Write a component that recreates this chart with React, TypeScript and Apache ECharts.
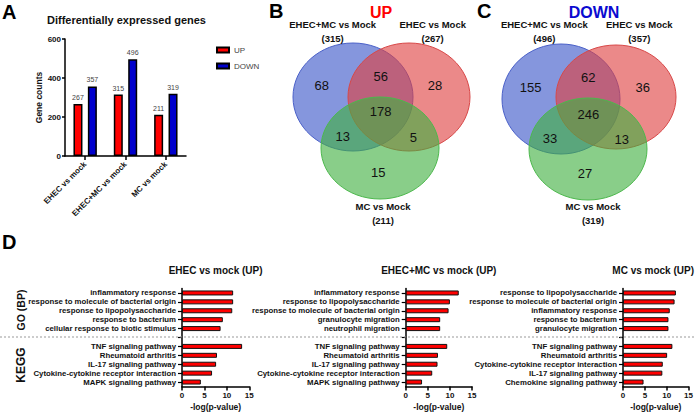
import React, { useEffect, useRef } from "react";
import * as echarts from "echarts";

// ---------- Panel A data ----------
const barCategories = ["EHEC vs mock", "EHEC+MC vs mock", "MC vs mock"];
const upCounts = [267, 315, 211];
const downCounts = [357, 496, 319];
const countTicks = { min: 0, max: 600, interval: 200 };

// ---------- Venn data (regions: onlyA, AB, onlyB, ABC, AC, BC, onlyC) ----------
const vennSetNames = ["EHEC+MC vs Mock", "EHEC vs Mock", "MC vs Mock"];
const vennUpRegions = [68, 56, 28, 178, 13, 5, 15];
const vennUpTotals = [315, 267, 211];
const vennDownRegions = [155, 62, 36, 246, 33, 13, 27];
const vennDownTotals = [496, 357, 319];

// ---------- Panel D data ----------
const ehecGO = ["inflammatory response", "response to molecule of bacterial origin", "response to lipopolysaccharide", "response to bacterium", "cellular response to biotic stimulus"];
const ehecGOValues = [11.4, 11.4, 11.2, 9.1, 8.6];
const ehecKEGG = ["TNF signaling pathway", "Rheumatoid arthritis", "IL-17 signaling pathway", "Cytokine-cytokine receptor interaction", "MAPK signaling pathway"];
const ehecKEGGValues = [13.4, 7.8, 7.6, 6.7, 4.2];

const ehecMcGO = ["inflammatory response", "response to lipopolysaccharide", "response to molecule of bacterial origin", "granulocyte migration", "neutrophil migration"];
const ehecMcGOValues = [12.0, 10.0, 9.7, 7.8, 7.8];
const ehecMcKEGG = ["TNF signaling pathway", "Rheumatoid arthritis", "IL-17 signaling pathway", "Cytokine-cytokine receptor interaction", "MAPK signaling pathway"];
const ehecMcKEGGValues = [9.4, 7.3, 7.2, 6.0, 3.7];

const mcGO = ["response to lipopolysaccharide", "response to molecule of bacterial origin", "inflammatory response", "response to bacterium", "granulocyte migration"];
const mcGOValues = [12.1, 11.8, 10.7, 10.4, 10.4];
const mcKEGG = ["TNF signaling pathway", "Rheumatoid arthritis", "Cytokine-cytokine receptor interaction", "IL-17 signaling pathway", "Chemokine signaling pathway"];
const mcKEGGValues = [11.3, 10.1, 9.1, 9.0, 4.7];

const enrichTitles = ["EHEC vs mock (UP)", "EHEC+MC vs mock (UP)", "MC vs mock (UP)"];
const enrichTicks = { min: 0, max: 15, interval: 5 };

const FONT = "Liberation Sans, Arial, Helvetica, sans-serif";

function txt(text: string, x: number, y: number, size: number, opts: any = {}) {
  return {
    type: "text",
    x,
    y,
    rotation: opts.rotation || 0,
    z: 100,
    style: {
      text,
      fontSize: size,
      fontWeight: opts.weight || "normal",
      fontFamily: FONT,
      fill: opts.color || "#111",
      align: opts.align || "center",
      verticalAlign: opts.valign || "middle",
      textAlign: opts.align || "center",
      textVerticalAlign: opts.valign || "middle",
    },
  };
}

function venn(circles: any[], regionPos: number[][], regions: number[], labelPos: number[][], totals: number[]) {
  const fills = ["rgba(58,85,200,0.62)", "rgba(223,64,64,0.62)", "rgba(64,176,64,0.62)"];
  const strokes = ["#4a60c8", "#d84848", "#4cb84c"];
  const els: any[] = [];
  circles.forEach((c, i) => {
    els.push({
      type: "ellipse",
      shape: { cx: c[0], cy: c[1], rx: c[2], ry: c[3] },
      style: { fill: fills[i], stroke: strokes[i], lineWidth: 1 },
      z: 10 + i,
    });
  });
  regions.forEach((v, i) => {
    els.push(txt(String(v), regionPos[i][0], regionPos[i][1], 13));
  });
  vennSetNames.forEach((name, i) => {
    els.push(txt(name, labelPos[i][0], labelPos[i][1], 9.5, { weight: "bold" }));
    els.push(txt("(" + totals[i] + ")", labelPos[i][0], labelPos[i][1] + 14, 9.5, { weight: "bold" }));
  });
  return els;
}

export default function App() {
  const ref = useRef<HTMLDivElement>(null);
  useEffect(() => {
    if (!ref.current) return;
    const chart = echarts.init(ref.current, undefined, { renderer: "svg" });

    const enrichSets = [
      { go: ehecGO, gov: ehecGOValues, kegg: ehecKEGG, keggv: ehecKEGGValues },
      { go: ehecMcGO, gov: ehecMcGOValues, kegg: ehecMcKEGG, keggv: ehecMcKEGGValues },
      { go: mcGO, gov: mcGOValues, kegg: mcKEGG, keggv: mcKEGGValues },
    ];
    const dGrids = [
      { left: 182, width: 67.3 },
      { left: 405.7, width: 66.3 },
      { left: 623, width: 68 },
    ];

    const grids: any[] = [
      { left: 65, width: 121, top: 39, height: 117 },
      ...dGrids.map((g) => ({ left: g.left, width: g.width, top: 288.5, height: 98 })),
    ];

    const xAxes: any[] = [
      {
        type: "category",
        gridIndex: 0,
        data: barCategories,
        axisLine: { show: true, lineStyle: { color: "#000", width: 1.5 } },
        axisTick: { show: true, alignWithLabel: true, length: 4, lineStyle: { color: "#000", width: 1.5 } },
        axisLabel: { rotate: 45, interval: 0, fontSize: 8, fontWeight: "bold", color: "#111", fontFamily: FONT, margin: 7 },
      },
      ...dGrids.map((_, i) => ({
        type: "value",
        gridIndex: i + 1,
        min: enrichTicks.min,
        max: enrichTicks.max,
        interval: enrichTicks.interval,
        splitLine: { show: false },
        axisLine: { show: true, lineStyle: { color: "#000", width: 1.5 } },
        axisTick: { show: true, length: 4, lineStyle: { color: "#000", width: 1.5 } },
        axisLabel: { fontSize: 8, fontWeight: "bold", color: "#111", fontFamily: FONT, margin: 5 },
        name: "-log(p-value)",
        nameLocation: "middle",
        nameGap: 16,
        nameTextStyle: { fontSize: 8.5, fontWeight: "bold", color: "#111", fontFamily: FONT, verticalAlign: "top" },
      })),
    ];

    const yAxes: any[] = [
      {
        type: "value",
        gridIndex: 0,
        min: countTicks.min,
        max: countTicks.max,
        interval: countTicks.interval,
        splitLine: { show: false },
        axisLine: { show: true, lineStyle: { color: "#000", width: 1.5 } },
        axisTick: { show: true, length: 3, lineStyle: { color: "#000", width: 1.5 } },
        axisLabel: { fontSize: 8, fontWeight: "bold", color: "#111", fontFamily: FONT, margin: 4 },
        name: "Gene counts",
        nameLocation: "middle",
        nameGap: 22,
        nameTextStyle: { fontSize: 8.5, fontWeight: "bold", color: "#111", fontFamily: FONT },
      },
      ...enrichSets.map((s, i) => ({
        type: "category",
        gridIndex: i + 1,
        inverse: true,
        data: [...s.go, "", ...s.kegg],
        axisLine: { show: true, lineStyle: { color: "#000", width: 1.5 } },
        axisTick: { show: true, alignWithLabel: true, interval: 0, length: 4, lineStyle: { color: "#000", width: 1.2 } },
        axisLabel: { interval: 0, fontSize: 7.8, fontWeight: "bold", color: "#111", fontFamily: FONT, margin: 6 },
      })),
    ];

    const barLabel = { show: true, position: "top", distance: 3, fontSize: 7, color: "#444", fontFamily: FONT };
    const series: any[] = [
      {
        name: "UP",
        type: "bar",
        xAxisIndex: 0,
        yAxisIndex: 0,
        data: upCounts,
        barWidth: 9,
        barGap: "60%",
        itemStyle: { color: "#ff0000", borderColor: "#000", borderWidth: 1.5 },
        label: barLabel,
      },
      {
        name: "DOWN",
        type: "bar",
        xAxisIndex: 0,
        yAxisIndex: 0,
        data: downCounts,
        barWidth: 9,
        barGap: "60%",
        itemStyle: { color: "#0000cc", borderColor: "#000", borderWidth: 1.5 },
        label: barLabel,
      },
      ...enrichSets.map((s, i) => ({
        type: "bar",
        xAxisIndex: i + 1,
        yAxisIndex: i + 1,
        data: [...s.gov, null, ...s.keggv],
        barWidth: 5,
        itemStyle: { color: "#ff0000", borderColor: "#111", borderWidth: 1 },
      })),
    ];

    const graphic: any[] = [
      // panel letters
      txt("A", 2, 2, 20, { weight: "bold", align: "left", valign: "top", color: "#000" }),
      txt("B", 269, 1, 20, { weight: "bold", align: "left", valign: "top", color: "#000" }),
      txt("C", 477, 1, 20, { weight: "bold", align: "left", valign: "top", color: "#000" }),
      txt("D", 2, 232, 20, { weight: "bold", align: "left", valign: "top", color: "#000" }),
      txt("Differentially expressed genes", 126.5, 20, 11, { weight: "bold" }),
      txt("UP", 381, 12, 16, { weight: "bold", color: "#ff0000" }),
      txt("DOWN", 594, 12, 16, { weight: "bold", color: "#0a0ad0" }),
      ...venn(
        [[353, 97, 60, 54], [409, 97, 61, 54], [380, 148, 59, 51]],
        [[321.7, 85], [380.7, 76], [435, 85], [380.7, 111.7], [342.7, 136.7], [413.3, 137], [378.3, 172.7]],
        vennUpRegions,
        [[332.7, 24], [432.7, 24], [383, 206.7]],
        vennUpTotals
      ),
      ...venn(
        [[561, 99, 59, 55], [616, 97, 60, 52], [588, 149, 59, 51]],
        [[530.7, 87.3], [588.3, 77.3], [642.7, 87], [588.3, 114], [550, 138.3], [621.7, 139.3], [585, 173.3]],
        vennDownRegions,
        [[544.3, 24], [639.3, 24], [593, 206]],
        vennDownTotals
      ),
      // panel D titles
      txt(enrichTitles[0], 215.6, 270.7, 10, { weight: "bold" }),
      txt(enrichTitles[1], 438.8, 270.7, 10, { weight: "bold" }),
      txt(enrichTitles[2], 694, 270.7, 10, { weight: "bold", align: "right" }),
      txt("GO (BP)", 21, 310, 10.5, { weight: "bold", rotation: Math.PI / 2 }),
      txt("KEGG", 21, 365, 12, { weight: "bold", rotation: Math.PI / 2 }),
      {
        type: "line",
        shape: { x1: 0, y1: 337, x2: 696, y2: 337 },
        style: { stroke: "#999", lineWidth: 1, lineDash: [2, 2] },
        z: 1,
      },
    ];

    chart.setOption({
      animation: false,
      backgroundColor: "#fff",
      textStyle: { fontFamily: FONT },
      legend: {
        data: ["UP", "DOWN"],
        orient: "vertical",
        left: 211,
        top: 41,
        itemWidth: 12,
        itemHeight: 5,
        itemGap: 8,
        icon: "rect",
        textStyle: { fontSize: 8, color: "#444", fontFamily: FONT },
      },
      grid: grids,
      xAxis: xAxes,
      yAxis: yAxes,
      series,
      graphic,
    });
    return () => chart.dispose();
  }, []);
  return <div ref={ref} style={{ position: "absolute", left: 0, top: 0, width: 696, height: 413 }} />;
}
